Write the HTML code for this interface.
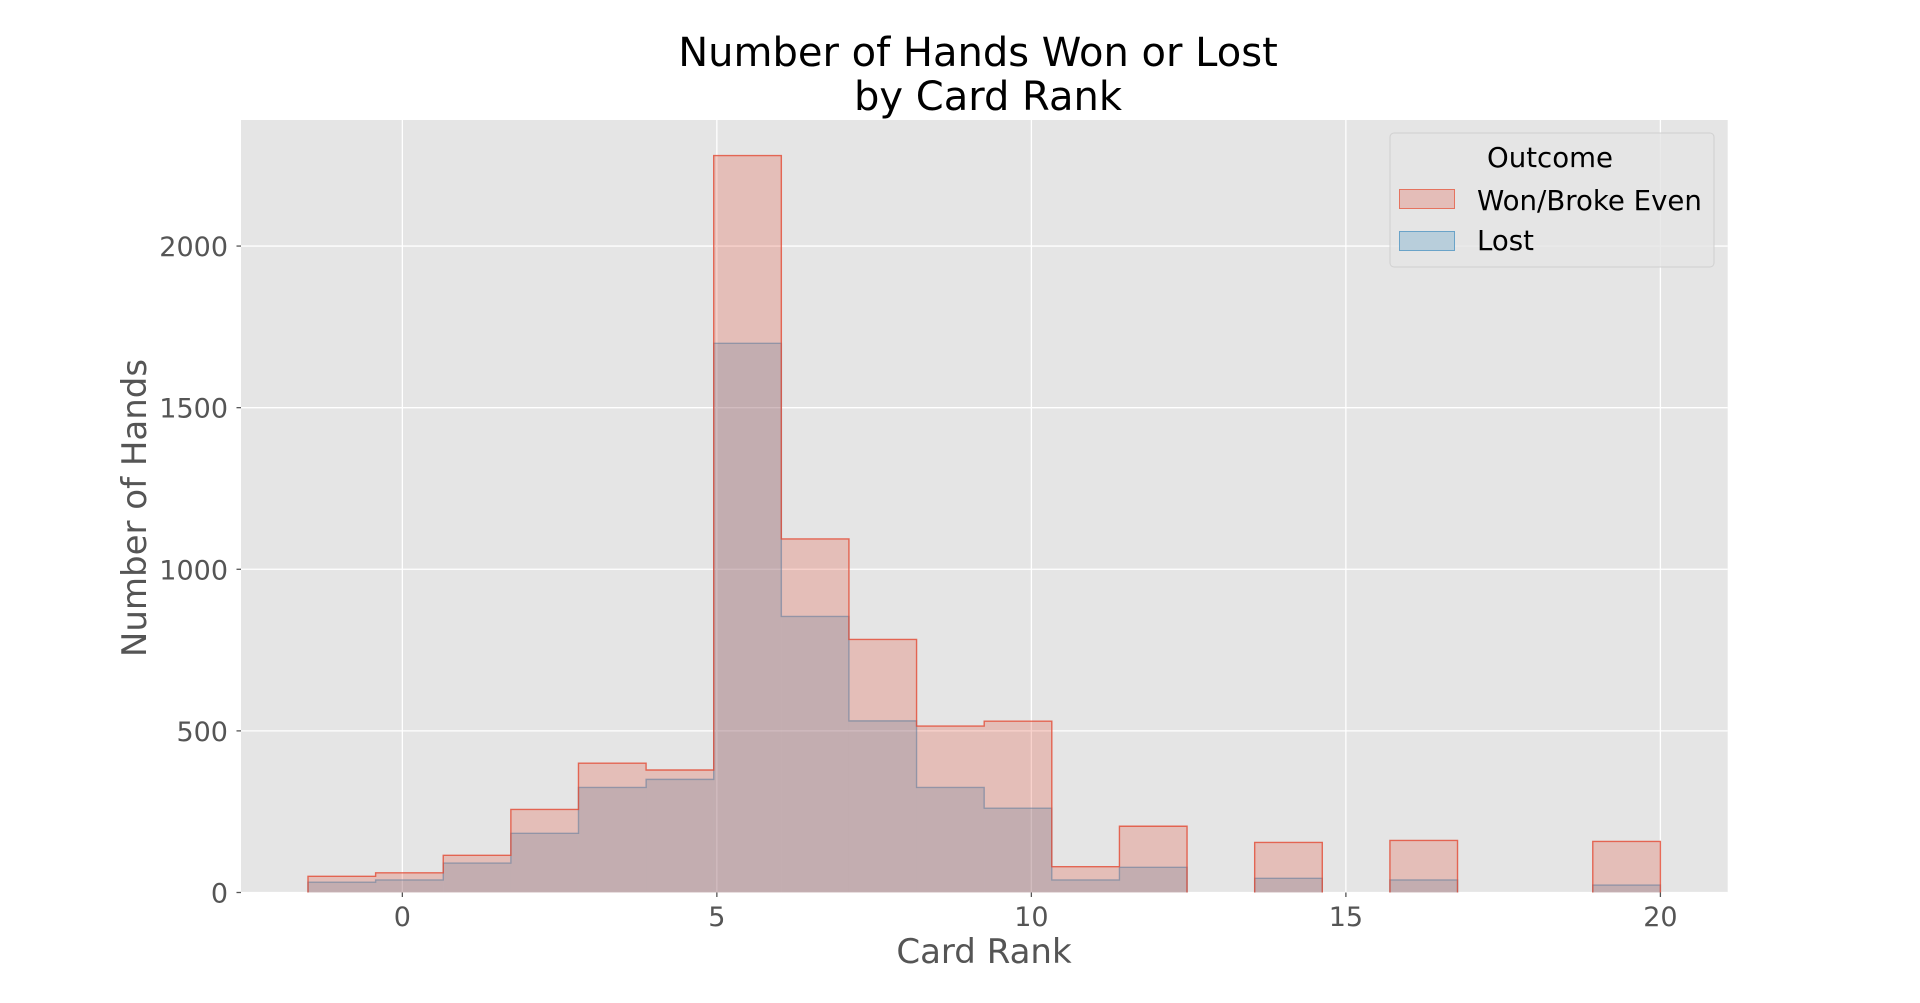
<!DOCTYPE html>
<html><head><meta charset="utf-8"><style>
html,body{margin:0;padding:0;background:#fff;}
svg{display:block;font-family:"DejaVu Sans","Liberation Sans",sans-serif;}
</style></head><body>
<svg id="chart" width="1920" height="1003" viewBox="0 0 1920 1003" xmlns="http://www.w3.org/2000/svg">
<rect x="241" y="120" width="1486.7" height="772.5" fill="#e5e5e5"/>
<g id="grid"></g>
<g id="bars"></g>
<g id="axes"></g>
<text x="978" y="66" font-size="40" text-anchor="middle" fill="#000">Number of Hands Won or Lost</text>
<text x="988" y="110" font-size="40" text-anchor="middle" fill="#000">by Card Rank</text>
<text x="984" y="963" font-size="34" text-anchor="middle" fill="#555">Card Rank</text>
<text transform="translate(146,508) rotate(-90)" font-size="34" text-anchor="middle" fill="#555">Number of Hands</text>
<g>
<rect x="1390" y="133" width="324" height="134" rx="4" fill="#e5e5e5" fill-opacity="0.8" stroke="#d0d0d0"/>
<text x="1550" y="167" font-size="27.6" text-anchor="middle" fill="#000">Outcome</text>
<rect x="1399.5" y="189.5" width="55" height="19" fill="#e4bdb8" stroke="#e5735f"/>
<text x="1477" y="210" font-size="27.6" fill="#000">Won/Broke Even</text>
<rect x="1399.5" y="231.5" width="55" height="19" fill="#b8cedb" stroke="#6aa3c8"/>
<text x="1477" y="250" font-size="27.6" fill="#000">Lost</text>
</g>
</svg>
<script>
const binStart = -1.5;
const binWidth = 1.075;
const wonValues = [50, 61, 115, 257, 400, 379, 2280, 1094, 783, 515, 530, 80, 205, 0, 155, 0, 161, 0, 0, 158];
const lostValues = [32, 39, 91, 183, 325, 350, 1699, 854, 531, 325, 261, 39, 78, 0, 44, 0, 39, 0, 0, 23];
const xTicks = [0, 5, 10, 15, 20];
const yTicks = [0, 500, 1000, 1500, 2000];

const L = 241, R = 1727.7, T = 120, B = 892.5;
const xMin = -2.565, xMax = 21.07, yMax = 2390;
const xs = v => L + (v - xMin) / (xMax - xMin) * (R - L);
const ys = v => B - v / yMax * (B - T);
const NS = 'http://www.w3.org/2000/svg';
function mk(tag, attrs, parent) {
  const e = document.createElementNS(NS, tag);
  for (const k in attrs) e.setAttribute(k, attrs[k]);
  parent.appendChild(e);
  return e;
}
const grid = document.getElementById('grid');
const axes = document.getElementById('axes');
const bars = document.getElementById('bars');
xTicks.forEach(t => {
  const g = mk('line', {x1: xs(t), x2: xs(t), y1: T, y2: B, stroke: '#fff', 'stroke-width': 1.3}, grid);
  
  
  const tk = mk('line', {x1: xs(t), x2: xs(t), y1: B, y2: B + 4.5, stroke: '#555', 'stroke-width': 1.3}, axes);
  
  
  const lb = mk('text', {x: xs(t), y: 926, 'font-size': 27, 'text-anchor': 'middle', fill: '#555'}, axes);
  lb.textContent = t;
  
  
});
yTicks.forEach(t => {
  const g = mk('line', {x1: L, x2: R, y1: ys(t), y2: ys(t), stroke: '#fff', 'stroke-width': 1.3}, grid);
  
  
  const tk = mk('line', {x1: L - 4.5, x2: L, y1: ys(t), y2: ys(t), stroke: '#555', 'stroke-width': 1.3}, axes);
  
  
  const lb = mk('text', {x: 228, y: ys(t) + 10, 'font-size': 27, 'text-anchor': 'end', fill: '#555'}, axes);
  lb.textContent = t;
  
  
});
function stepPaths(vals) {
  const out = [];
  let d = null;
  vals.forEach((v, i) => {
    const x0 = xs(binStart + i * binWidth), x1 = xs(binStart + (i + 1) * binWidth);
    if (v > 0) {
      if (d === null) d = 'M' + x0 + ',' + ys(0);
      d += ' L' + x0 + ',' + ys(v) + ' L' + x1 + ',' + ys(v);
    } else if (d !== null) {
      d += ' L' + x0 + ',' + ys(0);
      out.push(d); d = null;
    }
  });
  if (d !== null) { d += ' L' + xs(binStart + vals.length * binWidth) + ',' + ys(0); out.push(d); }
  return out;
}
function bins(vals, name, fill, stroke, strokeOp) {
  const grp = mk('g', {}, bars);
  
  
  vals.forEach((v, i) => {
    if (v <= 0) return;
    const r = mk('rect', {x: xs(binStart + i * binWidth), y: ys(v), width: xs(binStart + (i + 1) * binWidth) - xs(binStart + i * binWidth), height: ys(0) - ys(v), fill: fill, 'fill-opacity': 0.25}, grp);
    
    
  });
  stepPaths(vals).forEach(d => {
    const p = mk('path', {d: d, fill: 'none', stroke: stroke, 'stroke-width': 1.4, 'stroke-opacity': strokeOp}, grp);
    
    
  });
}
bins(lostValues, 'lost', '#348ABD', '#348ABD', 0.55);
bins(wonValues, 'won', '#E24A33', '#E24A33', 0.8);
</script>
</body></html>
